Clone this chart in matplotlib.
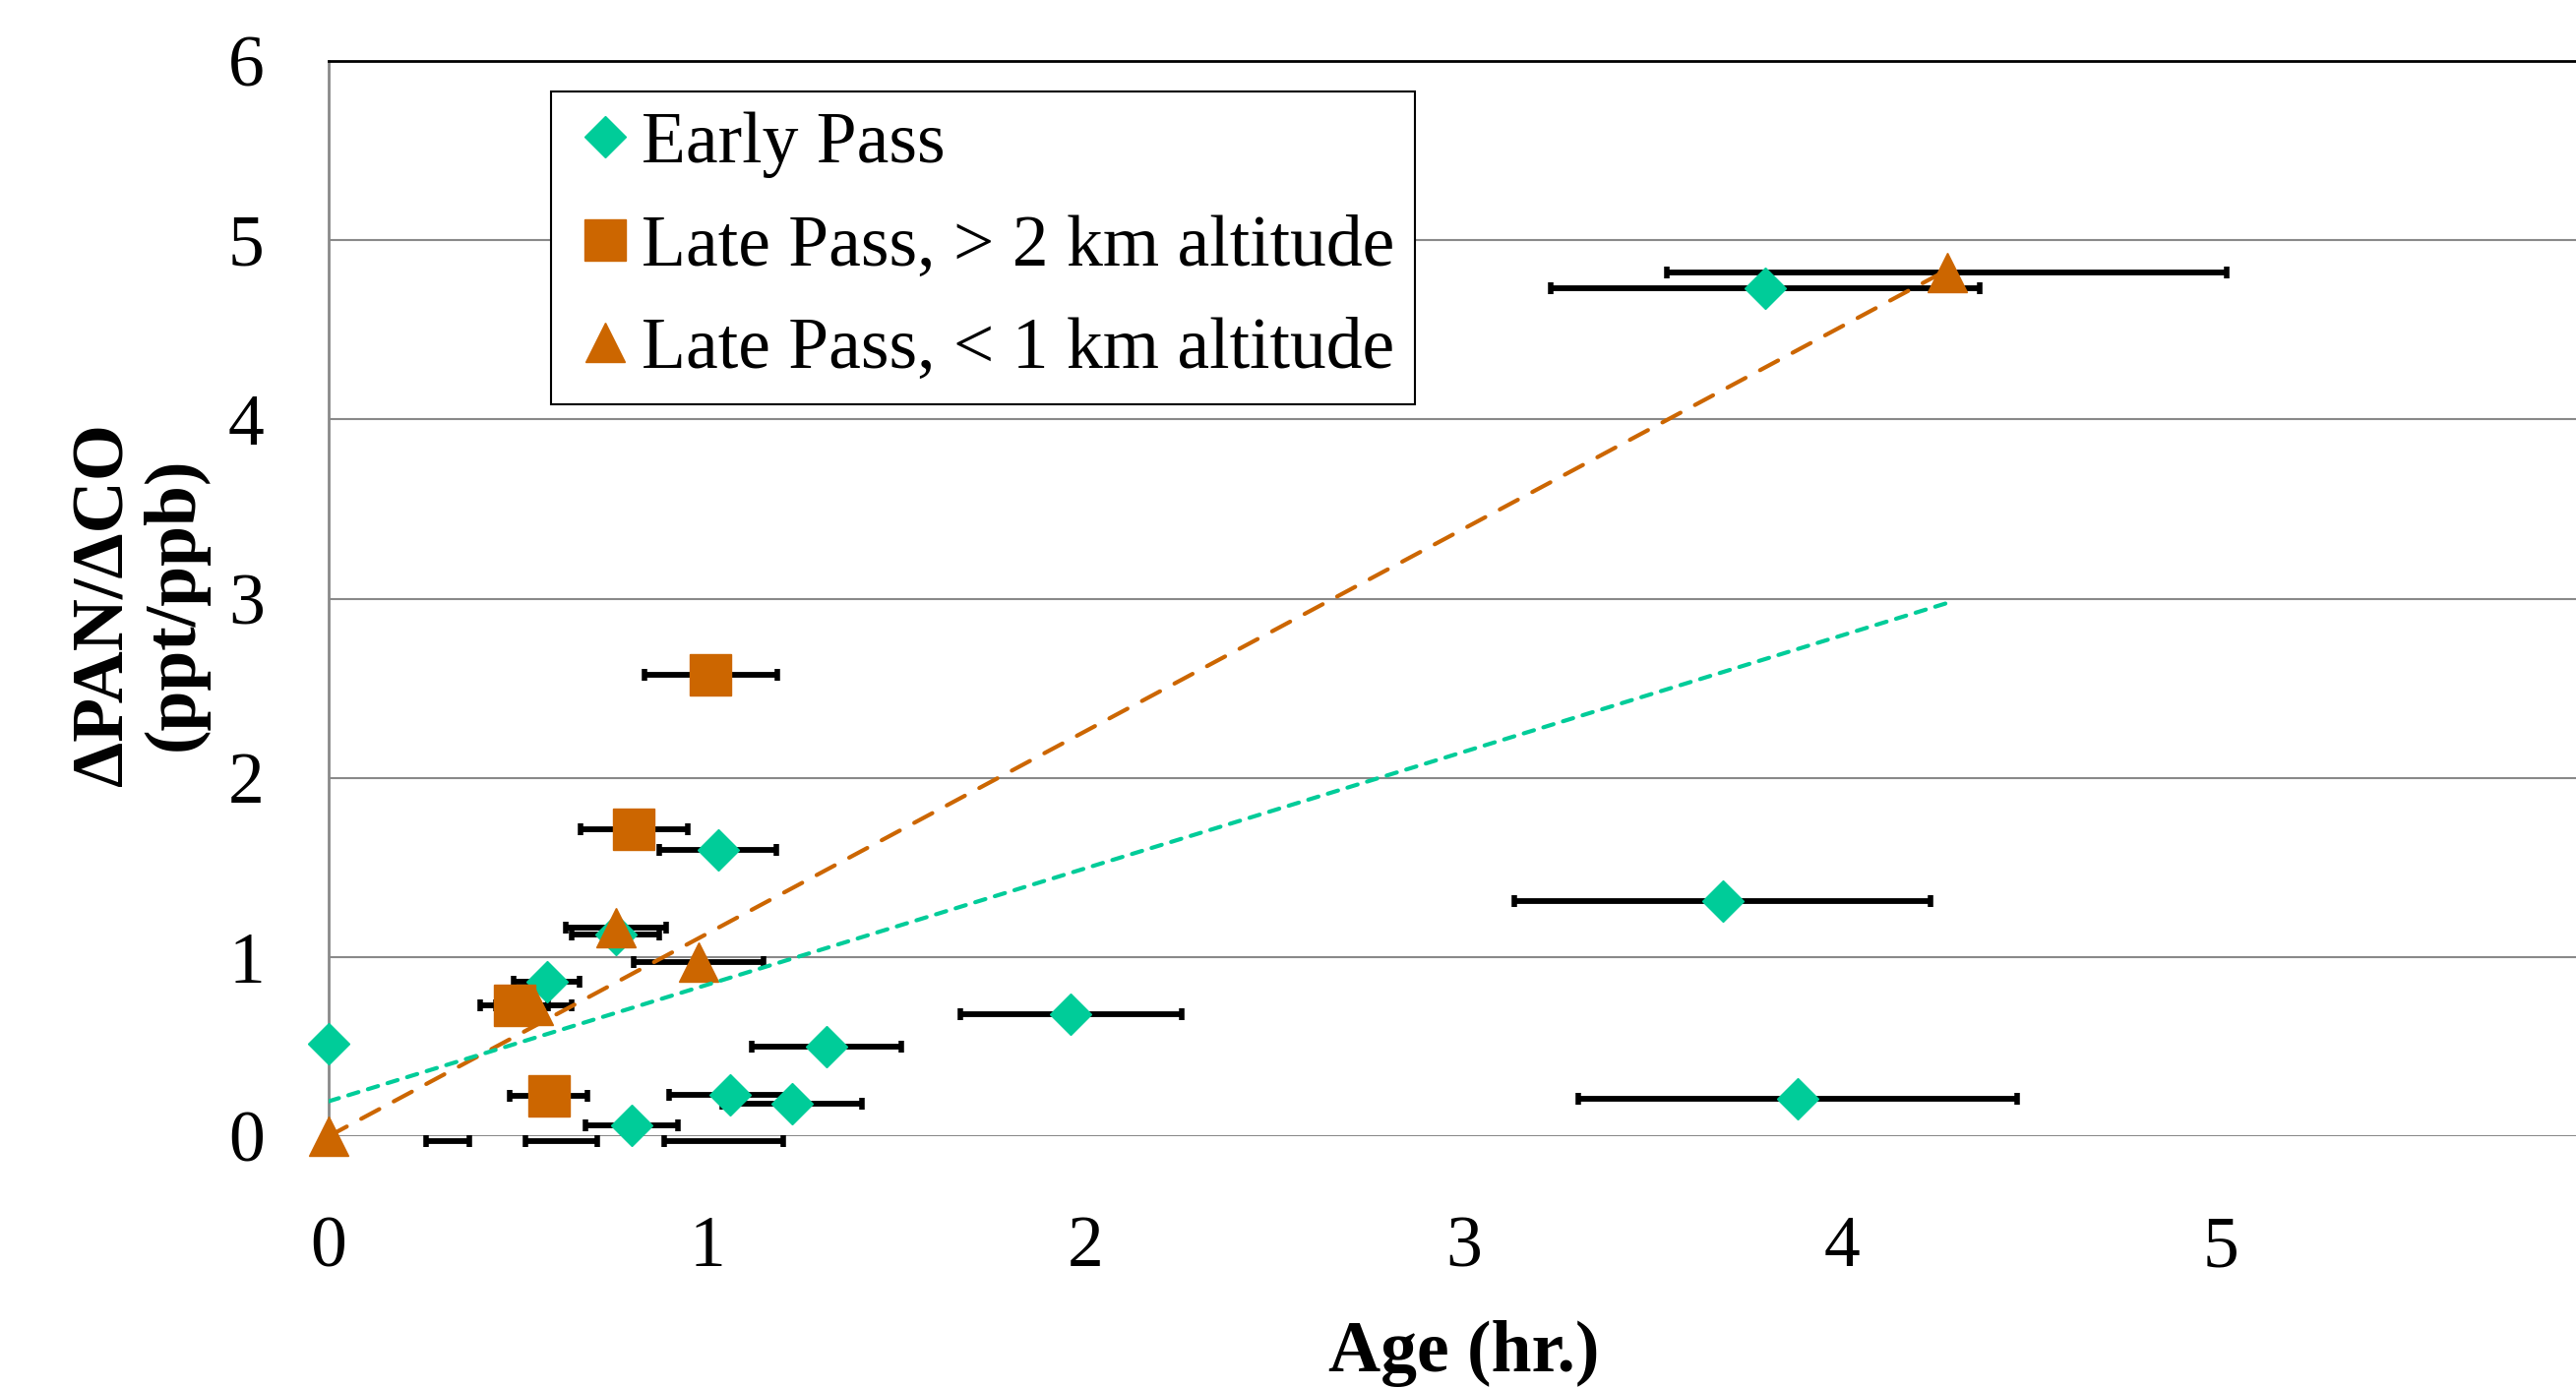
import matplotlib
matplotlib.use("Agg")
import matplotlib.pyplot as plt
from matplotlib.lines import Line2D
import numpy as np

TEAL = "#00CC99"
ORANGE = "#CC6600"

# Early pass (age in hr, dPAN/dCO, age uncertainty)
early_age = [1.029, 0.758, 0.576, 0.0, 1.316, 1.061, 1.224, 0.801, 1.962, 3.797, 3.684, 3.883]
early_ratio = [1.595, 1.125, 0.860, 0.516, 0.498, 0.232, 0.181, 0.059, 0.682, 4.733, 1.313, 0.210]
early_err = [0.155, 0.115, 0.087, 0.0, 0.197, 0.160, 0.185, 0.122, 0.293, 0.566, 0.550, 0.580]

# Late pass above 2 km
high_age = [1.010, 0.807, 0.491, 0.582]
high_ratio = [2.576, 1.714, 0.730, 0.227]
high_err = [0.176, 0.142, 0.090, 0.103]

# Late pass below 1 km
low_age = [0.0, 0.542, 0.760, 0.978, 4.277]
low_ratio = [0.0, 0.728, 1.164, 0.973, 4.821]
low_err = [0.0, 0.100, 0.133, 0.172, 0.739]

# points falling just under the axis minimum (only their bars show)
offscale_age = [0.314, 0.615, 1.044]
offscale_ratio = [-0.025, -0.025, -0.025]
offscale_err = [0.057, 0.095, 0.157]

# linear trend fits: (slope, intercept), drawn over the data age range
early_fit = (0.650, 0.195)
late_fit = (1.130, 0.0)
fit_age = [0.0, 4.277]

plt.rcParams["font.family"] = ["Liberation Serif", "DejaVu Serif"]

fig = plt.figure(figsize=(26.18, 14.11), dpi=100)
ax = fig.add_axes([0.1276, 0.1814, 0.8724, 0.7746])

err_kw = dict(fmt="none", ecolor="black", elinewidth=4.2, capsize=4,
              capthick=4, zorder=2, clip_on=False)
ax.errorbar(offscale_age, offscale_ratio, xerr=offscale_err, **err_kw)
ax.errorbar(early_age, early_ratio, xerr=early_err, **err_kw)
ax.errorbar(low_age, low_ratio, xerr=low_err, **err_kw)
ax.errorbar(high_age, high_ratio, xerr=high_err, **err_kw)

ax.plot(early_age, early_ratio, ls="none", marker="D", ms=21, color=TEAL,
        mec=TEAL, zorder=3, clip_on=False)
ax.plot(low_age, low_ratio, ls="none", marker="^", ms=29, color=ORANGE,
        mec=ORANGE, zorder=3, clip_on=False)
ax.plot(high_age, high_ratio, ls="none", marker="s", ms=30, color=ORANGE,
        mec=ORANGE, zorder=3, clip_on=False)

xf = np.array(fit_age)
ax.plot(xf, late_fit[0] * xf + late_fit[1], color=ORANGE, lw=3,
        ls=(0, (5.0, 4.0)), dash_capstyle="round", zorder=4)
ax.plot(xf, early_fit[0] * xf + early_fit[1], color=TEAL, lw=3,
        ls=(0, (2.6, 2.4)), dash_capstyle="round", zorder=4)

ax.set_xlim(0, 5.94)
ax.set_ylim(0, 6)
ax.set_xticks(range(0, 6))
ax.set_yticks(range(0, 7))
ax.tick_params(length=0, labelsize=53)
ax.tick_params(axis="y", pad=47)
ax.tick_params(axis="x", pad=58)
ax.yaxis.grid(True, color="#898989", lw=1.5, zorder=0)
ax.set_axisbelow(True)

for side in ["right", "bottom"]:
    ax.spines[side].set_visible(False)
ax.spines["left"].set_color("#898989")
ax.spines["left"].set_linewidth(2)
ax.spines["top"].set_color("black")
ax.spines["top"].set_linewidth(2)

ax.set_xlabel("Age (hr.)", fontsize=53, weight="bold", va="baseline")
ax.xaxis.set_label_coords(0.505, -0.219)
ax.set_ylabel("ΔPAN/ΔCO\n(ppt/ppb)", fontsize=53, weight="bold",
              va="center", linespacing=1.05)
ax.yaxis.set_label_coords(-0.084, 0.495)

handles = [
    Line2D([], [], ls="none", marker="D", ms=21, color=TEAL),
    Line2D([], [], ls="none", marker="s", ms=30, color=ORANGE),
    Line2D([], [], ls="none", marker="^", ms=29, color=ORANGE),
]
labels = ["Early Pass", "Late Pass, > 2 km altitude", "Late Pass, < 1 km altitude"]
leg = ax.legend(handles, labels, loc="upper left", bbox_to_anchor=(0.099, 0.9716),
                borderaxespad=0, fontsize=53, frameon=True, fancybox=False,
                borderpad=0.28, handlelength=0.935, handletextpad=0.03,
                labelspacing=0.5, framealpha=1)
leg.get_frame().set_edgecolor("black")
leg.get_frame().set_linewidth(1.5)

fig.savefig("out.png", dpi=100)
